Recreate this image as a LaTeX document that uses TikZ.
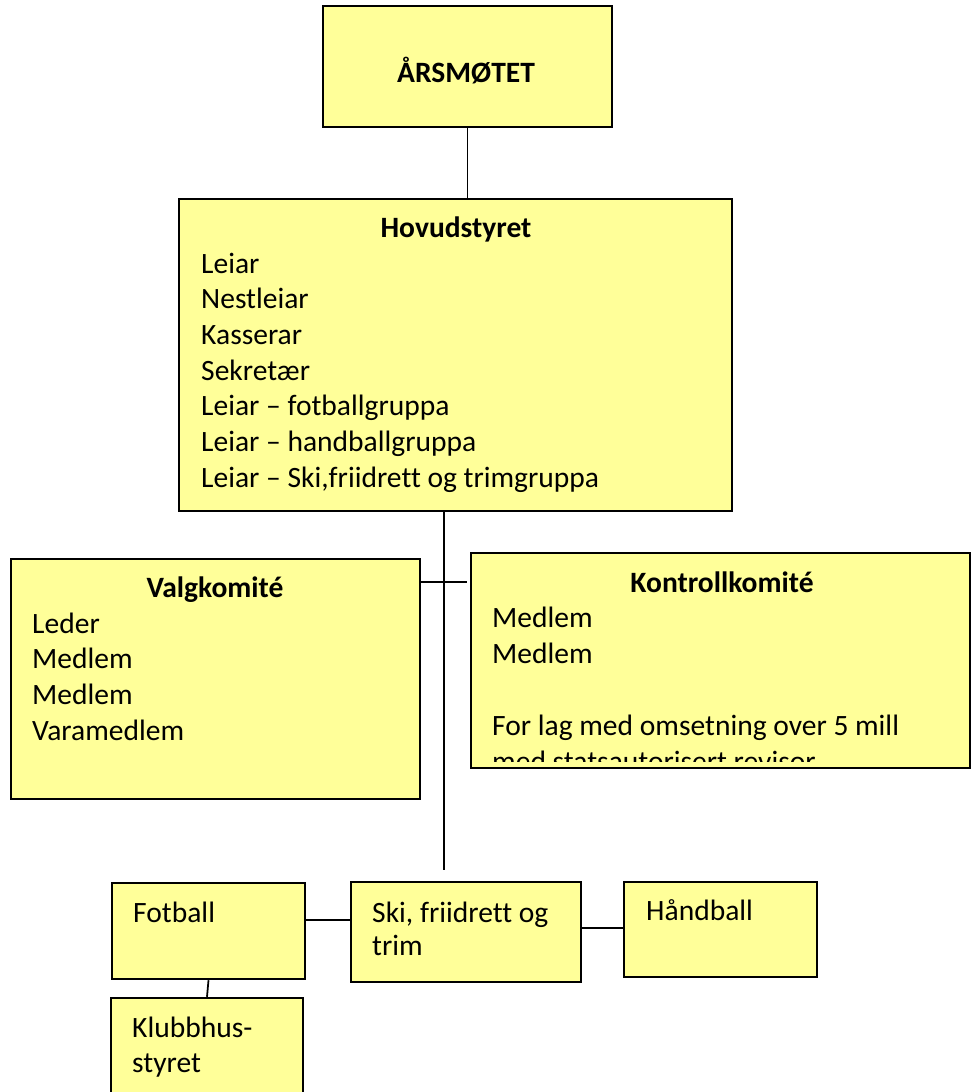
\documentclass[tikz,border=0pt]{standalone}
\usepackage{fontspec}
\setmainfont[Ligatures=NoCommon]{Carlito}
\usetikzlibrary{positioning,fit,calc}
\definecolor{boksgul}{HTML}{FFFF99}
\newcommand\tekstfont{\fontsize{25.2}{30.7}\selectfont}
\tikzset{
	boks/.style={draw=black,fill=boksgul,line width=2.1pt,inner sep=0pt},
	strek/.style={line width=1.5pt},
	tittel/.style={anchor=base,inner sep=0pt,font=\tekstfont\bfseries},
	linje/.style={anchor=base west,inner sep=0pt,font=\tekstfont},
}
\begin{document}
\begin{tikzpicture}[x=.03cm,y=-.03cm]
	\useasboundingbox (0,0) rectangle (971,1092);
	% boksane
	\node[boks,fit={(323,6)(612,127)}] (aarsmote) {};
	\node[boks,fit={(179,199)(732,511)}] (hovudstyret) {};
	\node[boks,fit={(11,559)(420,799)}] (valgkomite) {};
	\node[boks,fit={(471,553)(970,768)}] (kontrollkomite) {};
	\node[boks,fit={(112,883)(305,979)}] (fotball) {};
	\node[boks,fit={(351,882)(581,982)}] (ski) {};
	\node[boks,fit={(624,882)(817,977)}] (handball) {};
	\node[boks,fit={(111,998)(303,1100)}] (klubbhus) {};
	% strekar
	\coordinate (stamme) at (444,870);
	\draw[strek] (aarsmote.south) -- (aarsmote.south |- hovudstyret.north);
	\draw[strek] (stamme |- hovudstyret.south) -- (stamme);
	\coordinate (vk) at ($(valgkomite.north east)+(0,24)$);
	\draw[strek] (vk) -- ($(vk -| kontrollkomite.west)+(-3,0)$);
	\coordinate (fs) at ($(fotball.north east)+(0,38)$);
	\draw[strek] (fs) -- (fs -| ski.west);
	\coordinate (sh) at ($(ski.north east)+(0,47)$);
	\draw[strek] (sh) -- (sh -| handball.west);
	\draw[strek] (fotball.south) -- (klubbhus.north);
	% tekst
	\node[tittel] (ta) at (466,82) {ÅRSMØTET};
	\node[tittel] (th) at (456,237) {Hovudstyret};
	\path
	(201,273) node[linje] (h1) {Leiar}          % <<< hovudstyret
	++(0,35.7) node[linje] (h2) {Nestleiar}
	++(0,35.7) node[linje] (h3) {Kasserar}
	++(0,35.7) node[linje] (h4) {Sekretær}
	++(0,35.7) node[linje] (h5) {Leiar – fotballgruppa}
	++(0,35.7) node[linje] (h6) {Leiar – handballgruppa}
	++(0,35.7) node[linje] (h7) {Leiar – Ski,friidrett og trimgruppa};
	\node[tittel] (tv) at (215,597) {Valgkomité};
	\path
	(32,633) node[linje] (v1) {Leder}          % <<< valkomiteen
	++(0,35.7) node[linje] (v2) {Medlem}
	++(0,35.7) node[linje] (v3) {Medlem}
	++(0,35.7) node[linje] (v4) {Varamedlem};
	\node[tittel] (tk) at (722,592) {Kontrollkomité};
	\path
	(492,627) node[linje] (k1) {Medlem}          % <<< kontrollkomiteen
	++(0,36) node[linje] (k2) {Medlem}
	++(0,72) node[linje] (k3) {For lag med omsetning over 5 mill};
	\begin{scope}
		\clip (471,553) rectangle (970,761);
		\node[linje] (k4) at (492,771) {med statsautorisert revisor};
	\end{scope}
	\node[linje] (f1) at (133,922) {Fotball};
	\path
	(372,922) node[linje] (s1) {Ski, friidrett og}
	++(0,33) node[linje] (s2) {trim};
	\node[linje] (hb) at (646,920) {Håndball};
	\path
	(132,1037) node[linje] (kb1) {Klubbhus-}
	++(0,35) node[linje] (kb2) {styret};
\end{tikzpicture}
\end{document}
